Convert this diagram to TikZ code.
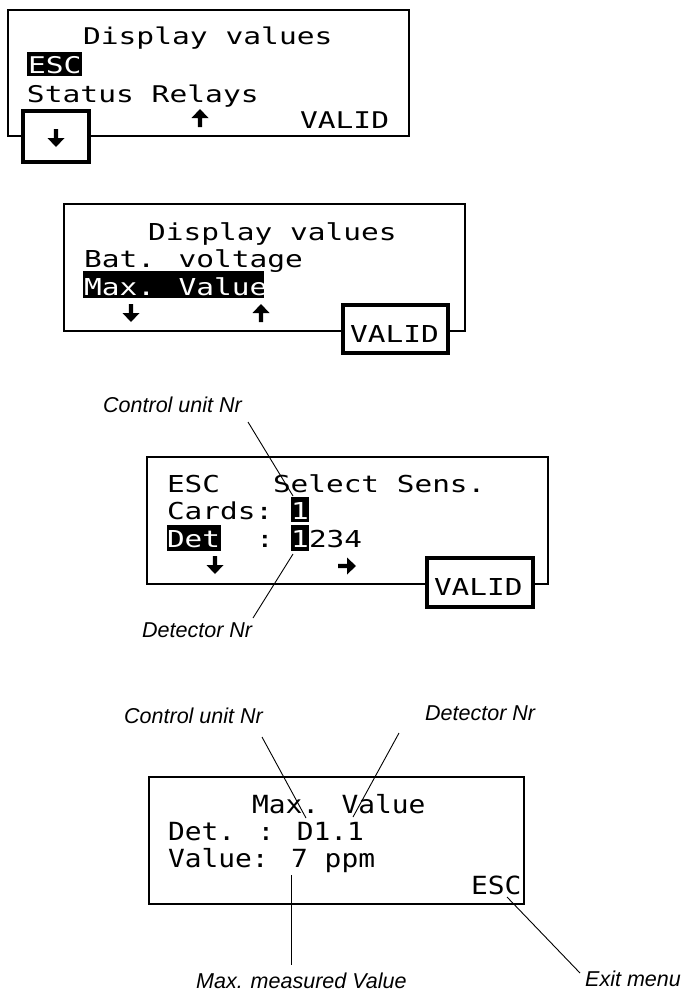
\documentclass[tikz,border=0pt]{standalone}
\usepackage{fontspec}
\usepackage{graphicx}
\setmainfont{Liberation Sans}
\newfontfamily\lcdfont{DejaVu Sans Mono}
\newcommand\lcdsx{3}
\newcommand\lcdsy{2.33}
\newcommand\lcd[1]{\scalebox{\lcdsx}[\lcdsy]{\lcdfont\fontsize{10}{12}\selectfont #1}}
\tikzset{
  txt/.style={anchor=base west, inner sep=0pt, outer sep=0pt},
  inv/.style={txt, text=white},
  panel/.style={draw=black, line width=1.7pt},
  keybox/.style={draw=black, line width=3.6pt, fill=white},
  hl/.style={fill=black},
  lab/.style={font=\fontsize{21.5}{26}\selectfont\itshape, anchor=base west, inner sep=0pt},
  leader/.style={line width=0.9pt},
  lcdarrow/.pic={\fill (-2.2,9)--(2.2,9)--(2.2,0)--(8.5,0)--(0,-9)--(-8.5,0)--(-2.2,0)--cycle;}
}
\begin{document}
\begin{tikzpicture}[x=1pt,y=-1pt]
\useasboundingbox (0,0) rectangle (682,994);

% ---------- Panel 1 ----------
\begin{scope}
\def\lcdsx{2.96}\def\lcdsy{2.3}
\draw[panel] (8,10) rectangle (409,136);
\node[txt] (p1t1) at (83,44) {\lcd{Display values}};
\fill[hl] (27,52) rectangle (82,76);
\node[inv] (p1esc) at (28,73) {\lcd{ESC}};
\node[txt] (p1t3) at (27,102) {\lcd{Status Relays}};
\node[txt] (p1valid) at (300,128) {\lcd{VALID}};
\draw[keybox] (23,111) rectangle (89,162);
\pic at (56,138) [rotate=180] {lcdarrow};
\pic at (200,118) {lcdarrow};
\end{scope}

% ---------- Panel 2 ----------
\begin{scope}
\def\lcdsx{2.95}\def\lcdsy{2.33}
\draw[panel] (64,204) rectangle (465,331);
\node[txt] (p2t1) at (148,240) {\lcd{Display values}};
\node[txt] (p2t2) at (84,267) {\lcd{Bat. voltage}};
\fill[hl] (83,271) rectangle (264,298);
\node[inv] (p2t3) at (84,295) {\lcd{Max. Value}};
\pic at (131,313) [rotate=180] {lcdarrow};
\pic at (261,313) {lcdarrow};
\draw[keybox] (343,305) rectangle (448,353);
\node[txt] (p2valid) at (350,342) {\lcd{VALID}};
\end{scope}

% ---------- Panel 3 ----------
\begin{scope}
\def\lcdsx{2.94}\def\lcdsy{2.33}
\draw[panel] (147,457) rectangle (548,584);
\node[txt] (p3esc) at (167,492) {\lcd{ESC}};
\node[txt] (p3sel) at (273,492) {\lcd{Select Sens.}};
\node[txt] (p3cards) at (167,519) {\lcd{Cards:}};
\fill[hl] (291,497) rectangle (309,522);
\node[inv] (p3c1) at (291,519) {\lcd{1}};
\fill[hl] (167,525) rectangle (221,551);
\node[inv] (p3det) at (167,547) {\lcd{Det}};
\node[txt] (p3colon) at (256,547) {\lcd{:}};
\fill[hl] (291,525) rectangle (309,551);
\node[inv] (p3d1) at (291,547) {\lcd{1}};
\node[txt] (p3rest) at (309,547) {\lcd{234}};
\pic at (215,565) [rotate=180] {lcdarrow};
\pic at (347,566) [rotate=-90] {lcdarrow};
\draw[keybox] (427,558) rectangle (533,607);
\node[txt] (p3valid) at (434,595) {\lcd{VALID}};
\node[lab] (l3cu) at (103,412) {Control unit Nr};
\node[lab] (l3det) at (142,637) {Detector Nr};
\coordinate (c3a) at (248,422);
\coordinate (c3b) at (293,496);
\coordinate (c3c) at (293,554);
\coordinate (c3d) at (253,618);
\draw[leader] (c3a) -- (c3b);
\draw[leader] (c3c) -- (c3d);
\end{scope}

% ---------- Panel 4 ----------
\begin{scope}
\def\lcdsx{2.79}\def\lcdsy{2.5}
\draw[panel] (149,777) rectangle (524,904);
\node[txt] (p4t1) at (252,813) {\lcd{Max. Value}};
\node[txt] (p4t2) at (168,840) {\lcd{Det. : D1.1}};
\node[txt] (p4t3) at (168,867) {\lcd{Value: 7 ppm}};
\node[txt] (p4esc) at (471,894) {\lcd{ESC}};
\node[lab] (l4cu) at (124,723) {Control unit Nr};
\node[lab] (l4det) at (425,720) {Detector Nr};
\node[lab] (l4max) at (196,988) {Max. measured Value};
\node[lab] (l4exit) at (585,986) {Exit menu};
\coordinate (c4a) at (262,737);
\coordinate (c4b) at (306,818);
\coordinate (c4c) at (399,733);
\coordinate (c4d) at (353,817);
\coordinate (c4e) at (291,875);
\coordinate (c4f) at (291,965);
\coordinate (c4g) at (507,897);
\coordinate (c4h) at (580,973);
\draw[leader] (c4a) -- (c4b);
\draw[leader] (c4c) -- (c4d);
\draw[leader] (c4e) -- (c4f);
\draw[leader] (c4g) -- (c4h);
\end{scope}
\end{tikzpicture}
\end{document}
